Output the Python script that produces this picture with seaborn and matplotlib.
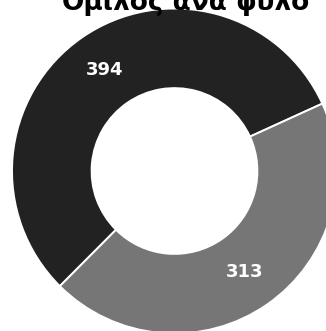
import matplotlib
matplotlib.use("Agg")
import matplotlib.pyplot as plt
import seaborn as sns
import numpy as np

title = "Όμιλος ανά φύλο"
categories = ["Α", "Β"]
values = [394, 313]
colors = ["#222222", "#767676"]

sns.set_theme(style="white")
plt.rcParams["font.family"] = ["DejaVu Sans"]

fig = plt.figure(figsize=(3.26, 3.31), dpi=100)
ax = fig.add_axes([0, 0, 1, 1])

R = 162.5  # px per unit
cx, cy = 174.5, 171.0

wedges, texts = ax.pie(
    values, colors=colors, startangle=24.5, counterclock=True,
    radius=1.0, wedgeprops=dict(width=0.49, edgecolor="white", linewidth=1.4),
)
for w, v in zip(wedges, values):
    ang = np.deg2rad((w.theta1 + w.theta2) / 2)
    r = 0.755
    ax.text(r * np.cos(ang), r * np.sin(ang), str(v), ha="center", va="center",
            color="white", fontsize=13, fontweight="bold")

ax.set_xlim(-cx / R, (326 - cx) / R)
ax.set_ylim(-(331 - cy) / R, cy / R)
ax.set_aspect("auto")
ax.axis("off")

t = fig.text(185 / 326, 1 - 10.5 / 331, title, ha="center", va="baseline",
             fontsize=17, fontweight="bold", color="black",
             family=["DejaVu Sans"])
fig.canvas.draw()
wpx = t.get_window_extent(fig.canvas.get_renderer()).width
t.set_fontsize(17 * 250 / wpx)

fig.savefig("out.png", dpi=100)
